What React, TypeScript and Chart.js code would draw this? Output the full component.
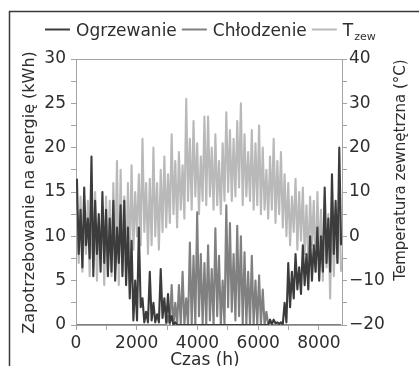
import { useEffect, useRef } from 'react';
import { Chart, registerables } from 'chart.js';

Chart.register(...registerables);

// Hourly simulation summarised in 120-hour blocks: for each block the
// highest and lowest value reached inside it.
const HOURS_PER_BIN = 120;
const HOURS_IN_YEAR = 8760;

const heatingHigh = [
  16.5, 13, 15.5, 12, 19, 14, 12.5, 15, 13,
  12, 14, 11, 13.5, 14, 11,
  9.5, 5, 11, 3, 1.5,
  6, 2.5, 1.2, 6.3, 3, 3.5,
  1, 0.3,
  0, 0, 0, 0, 0, 0, 0, 0, 0, 0, 0, 0, 0, 0, 0, 0, 0, 0, 0, 0, 0, 0, 0, 0, 0,
  0.6, 0.6, 0.3, 0.3, 2.5,
  7, 6, 8, 6.5, 9,
  8, 10, 9, 11, 10,
  15.5, 12, 17, 14, 20,
];
const heatingLow = [
  8, 6.5, 9, 7.5, 5.5, 8, 6, 7, 5.5,
  6, 5, 7, 5.5, 4.5, 3,
  0.5, 0.5, 2, 0.3, 0.3,
  0.5, 0.3, 0.3, 0.8, 0.3, 0.3,
  0, 0,
  0, 0, 0, 0, 0, 0, 0, 0, 0, 0, 0, 0, 0, 0, 0, 0, 0, 0, 0, 0, 0, 0, 0, 0, 0,
  0.1, 0.2, 0.1, 0.1, 0.3,
  2, 3, 4, 3.5, 4.5,
  4, 5, 6, 5, 6,
  7, 6, 8, 7, 9,
];

const coolingHigh = [
  0, 0, 0, 0, 0, 0, 0, 0, 0, 0, 0, 0, 0, 0, 0, 0, 0, 0, 0, 0, 0, 0, 0, 0, 0,
  1,
  4.5, 2.5, 4.5, 6, 3,
  9.3, 7.8, 12.7, 8, 7,
  9, 6.3, 10.9, 7.8, 5,
  13.5, 11.5, 8, 11.2, 10, 8.2,
  6, 7.8, 5, 5.6, 4,
  1.5, 0.5,
  0, 0, 0, 0, 0, 0, 0, 0, 0, 0, 0, 0, 0, 0, 0, 0, 0, 0, 0,
];
const coolingLow = [
  0, 0, 0, 0, 0, 0, 0, 0, 0, 0, 0, 0, 0, 0, 0, 0, 0, 0, 0, 0, 0, 0, 0, 0, 0,
  0,
  0, 0, 0, 0, 0,
  0, 0, 1, 0, 0,
  0.5, 0, 1, 0, 0,
  2, 1.5, 0.5, 1, 0, 0,
  0, 0, 0, 0, 0,
  0, 0,
  0, 0, 0, 0, 0, 0, 0, 0, 0, 0, 0, 0, 0, 0, 0, 0, 0, 0, 0,
];

const tempHigh = [
  6, 9, 4, 8, 5, 10, 3, 7, 9,
  8, 12, 17, 15, 9, 12,
  16, 10, 14, 22, 12,
  13, 20, 12, 15, 18, 14,
  23, 17, 19, 16,
  31,
  22, 26, 21, 18, 27,
  27, 20, 23, 17, 21,
  28, 24, 22, 26, 30, 23,
  19, 24, 21, 25, 20,
  15, 18, 22, 17, 19,
  14, 12, 9, 13, 10,
  11, 7, 9, 8, 10,
  6, 9, 5, 8, 4, 7,
];
const tempLow = [
  -6, -8, -4, -9, -7, -10, -5, -11, -8,
  -9, -7, -11, -8, -10, -6,
  -3, 0, -2, 1, -4,
  -2, 0, -3, 1, 2, 3,
  5, 2, 6, 4,
  8,
  6, 9, 5, 8, 7,
  9, 6, 7, 5, 8,
  10, 8, 9, 11, 7, 9,
  8, 6, 7, 5, 6,
  4, 6, 3, 5, 2,
  0, -2, 1, -3, -1,
  -4, -6, -2, -8, -5,
  -10, -7, -14, -9, -6, -8,
];

const xTickValues = [0, 1000, 2000, 3000, 4000, 5000, 6000, 7000, 8000];

const legendItems = [
  { text: 'Ogrzewanie', sub: '' },
  { text: 'Chłodzenie', sub: '' },
  { text: 'T', sub: 'zew' },
];
const seriesColors = ['#3c3c3c', '#808080', '#b9b9b9'];

const FONT = 'DejaVu Sans';
const TEXT = '#2e2e2e';
const AXIS = '#a3a3a3';

// Each block becomes a rise to its maximum and a fall to its minimum.
function toBand(high: number[], low: number[]) {
  return high.flatMap((h, i) => [
    { x: i * HOURS_PER_BIN + HOURS_PER_BIN * 0.25, y: h },
    { x: i * HOURS_PER_BIN + HOURS_PER_BIN * 0.75, y: low[i] },
  ]);
}

const fmt = (v: number) => (v < 0 ? '\u2212' + Math.abs(v) : String(v));

const decorations = {
  id: 'decorations',
  afterDraw(chart: any) {
    const { ctx, chartArea } = chart;
    ctx.save();

    // outer frame (top and left edge)
    ctx.strokeStyle = '#3a3a3a';
    ctx.lineWidth = 1.5;
    ctx.beginPath();
    ctx.moveTo(9.5, 366);
    ctx.lineTo(9.5, 11.5);
    ctx.lineTo(419, 11.5);
    ctx.stroke();

    // top edge of the plot box
    ctx.strokeStyle = AXIS;
    ctx.lineWidth = 1;
    ctx.beginPath();
    ctx.moveTo(chartArea.left, chartArea.top + 0.5);
    ctx.lineTo(chartArea.right, chartArea.top + 0.5);
    ctx.stroke();

    // legend
    ctx.fillStyle = TEXT;
    ctx.textBaseline = 'alphabetic';
    ctx.textAlign = 'left';
    let x = 45;
    const yLine = 29.5;
    const yText = 36;
    legendItems.forEach((item, i) => {
      ctx.strokeStyle = seriesColors[i];
      ctx.lineWidth = 2;
      ctx.beginPath();
      ctx.moveTo(x, yLine);
      ctx.lineTo(x + 25, yLine);
      ctx.stroke();
      x += 31;
      ctx.font = `17px "${FONT}"`;
      ctx.fillText(item.text, x, yText);
      x += ctx.measureText(item.text).width;
      if (item.sub) {
        ctx.font = `11px "${FONT}"`;
        ctx.fillText(item.sub, x + 1, yText + 4);
        x += ctx.measureText(item.sub).width + 1;
      }
      x += 5;
    });

    // axis titles
    ctx.textAlign = 'center';
    ctx.textBaseline = 'middle';
    ctx.font = `16px "${FONT}"`;
    ctx.save();
    ctx.translate(29.5, 192.5);
    ctx.rotate(-Math.PI / 2);
    ctx.fillText('Zapotrzebowanie na energię (kWh)', 0, 0);
    ctx.restore();

    ctx.font = `15px "${FONT}"`;
    ctx.save();
    ctx.translate(401, 170);
    ctx.rotate(-Math.PI / 2);
    ctx.fillText('Temperatura zewnętrzna (°C)', 0, 0);
    ctx.restore();

    ctx.font = `17px "${FONT}"`;
    ctx.textBaseline = 'alphabetic';
    ctx.fillText('Czas (h)', 205, 365);

    ctx.restore();
  },
};

export default function App() {
  const canvasRef = useRef<HTMLCanvasElement | null>(null);

  useEffect(() => {
    const canvas = canvasRef.current;
    if (!canvas) return;

    const tickFont = { family: FONT, size: 17 };

    const chart = new Chart(canvas, {
      type: 'line',
      data: {
        datasets: [
          {
            label: 'Ogrzewanie',
            data: toBand(heatingHigh, heatingLow),
            borderColor: seriesColors[0],
            yAxisID: 'y',
          },
          {
            label: 'Chłodzenie',
            data: toBand(coolingHigh, coolingLow),
            borderColor: seriesColors[1],
            yAxisID: 'y',
          },
          {
            label: 'Tzew',
            data: toBand(tempHigh, tempLow),
            borderColor: seriesColors[2],
            yAxisID: 'y2',
          },
        ],
      },
      options: {
        responsive: false,
        animation: false,
        devicePixelRatio: 1,
        layout: { padding: { top: 59, left: 0, right: 0, bottom: 0 } },
        elements: {
          line: { borderWidth: 2.1, tension: 0, borderJoinStyle: 'round' },
          point: { radius: 0 },
        },
        plugins: {
          legend: { display: false },
          tooltip: { enabled: false },
        },
        scales: {
          x: {
            type: 'linear',
            position: 'bottom',
            min: 0,
            max: HOURS_IN_YEAR,
            afterBuildTicks: (s: any) => {
              s.ticks = xTickValues.map((value) => ({ value }));
            },
            afterFit: (s: any) => {
              s.height = 41;
            },
            grid: { drawOnChartArea: false, drawTicks: true, tickLength: 5, color: AXIS },
            border: { display: true, color: AXIS },
            ticks: {
              autoSkip: false,
              maxRotation: 0,
              padding: 3,
              color: TEXT,
              font: tickFont,
              callback: (v: any) => (Number(v) % 2000 === 0 ? String(v) : ''),
            },
          },
          y: {
            position: 'left',
            min: 0,
            max: 30,
            afterFit: (s: any) => {
              s.width = 76;
            },
            grid: { drawOnChartArea: false, drawTicks: true, tickLength: 5, color: AXIS },
            border: { display: true, color: AXIS },
            ticks: {
              stepSize: 2.5,
              autoSkip: false,
              padding: 5,
              color: TEXT,
              font: tickFont,
              callback: (v: any) => (Number(v) % 5 === 0 ? String(v) : ''),
            },
          },
          y2: {
            position: 'right',
            min: -20,
            max: 40,
            afterFit: (s: any) => {
              s.width = 77;
            },
            grid: { drawOnChartArea: false, drawTicks: true, tickLength: 5, color: AXIS },
            border: { display: true, color: AXIS },
            ticks: {
              stepSize: 5,
              autoSkip: false,
              padding: 2,
              color: TEXT,
              font: tickFont,
              callback: (v: any) => (Number(v) % 10 === 0 ? fmt(Number(v)) : ''),
            },
          },
        },
      },
      plugins: [decorations],
    });

    return () => chart.destroy();
  }, []);

  return (
    <div
      style={{
        position: 'fixed',
        left: 0,
        top: 0,
        width: 419,
        height: 366,
        overflow: 'hidden',
        background: '#fff',
      }}
    >
      <canvas ref={canvasRef} width={419} height={366} style={{ width: 419, height: 366, display: 'block' }} />
    </div>
  );
}
